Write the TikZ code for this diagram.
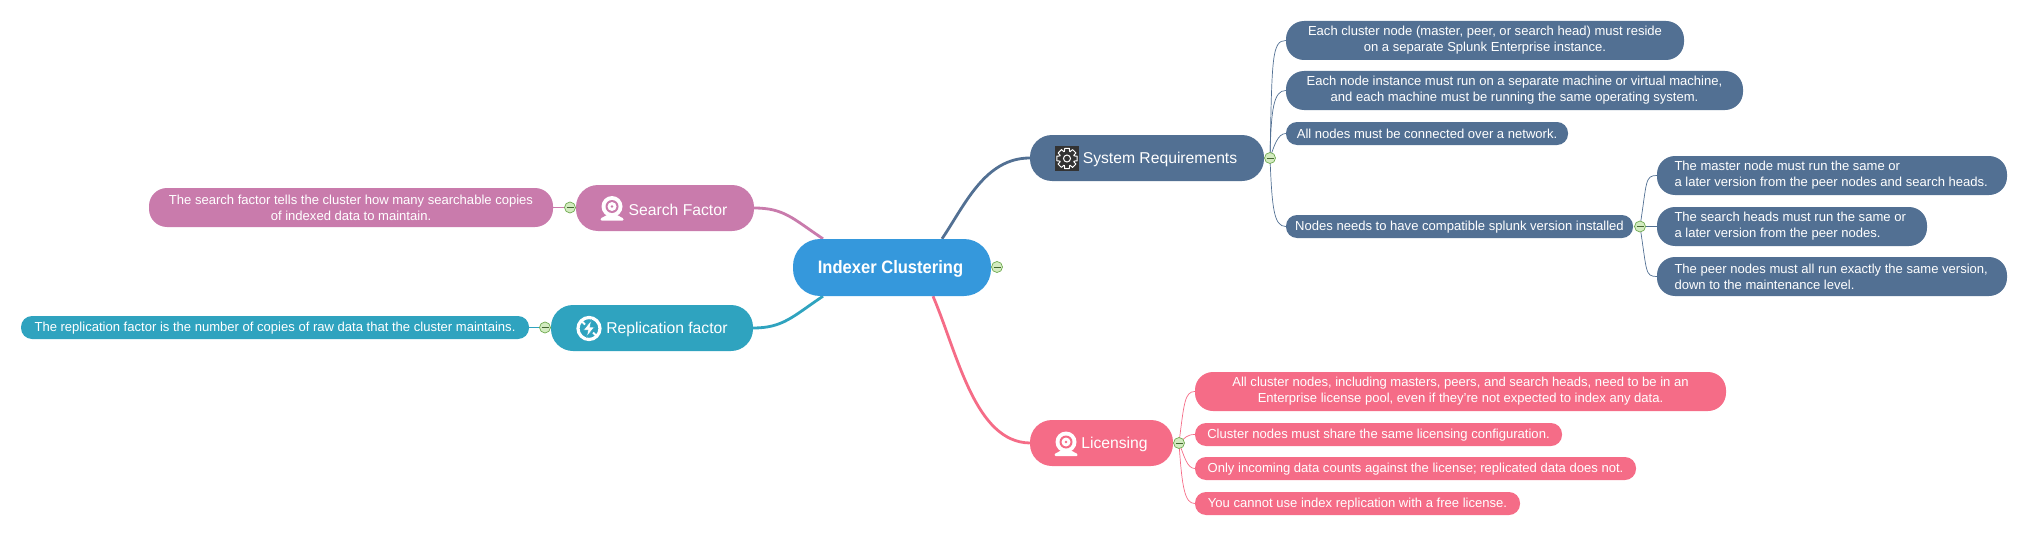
\documentclass[tikz,border=0pt]{standalone}
\usepackage{fontspec}
\setmainfont{Liberation Sans}
\newfontfamily\topicfont[FakeStretch=.92]{Liberation Sans}
\usetikzlibrary{backgrounds}
\definecolor{rootblue}{HTML}{3598DC}
\definecolor{sysblue}{HTML}{527093}
\definecolor{searchpink}{HTML}{C97BAC}
\definecolor{repteal}{HTML}{2FA3BF}
\definecolor{licrose}{HTML}{F56C87}
\definecolor{foldfill}{HTML}{D3EBC0}
\definecolor{foldline}{HTML}{6FAA50}
\definecolor{geardark}{HTML}{333333}
\tikzset{
	lowertext/.style = {execute at begin node = {\rule{0pt}{#1}}},
	topicbox/.style = {lowertext = .92em, fill = rootblue, text = white, rounded corners = 27, inner sep = 0, minimum width = 198, minimum height = 57, font = \fontsize{18}{21}\topicfont\bfseries},
	mainbox/.style = {lowertext = .92em, text = white, rounded corners = 22, inner sep = 0, minimum height = 46, font = \fontsize{15.7}{19}\selectfont},
	leafbox/.style = {lowertext = 1.08em, text = white, rounded corners = 18, inner sep = 0, minimum height = 39, align = center, font = \fontsize{13.05}{16}\selectfont},
	lineboxa/.style = {lowertext = .85em, text = white, rounded corners = 11, inner sep = 0, minimum height = 23, font = \fontsize{13.05}{16}\selectfont},
	foldmark/.style = {circle, draw = foldline, fill = foldfill, line width = .7, inner sep = 0, minimum size = 11,
		path picture = {\draw[foldline!60!black, line width = .8] ([xshift = -3.5]path picture bounding box.center) -- ([xshift = 3.5]path picture bounding box.center);}},
	bough/.style = {line width = 2.8},
	twig/.style = {line width = .7},
	pics/webcam/.style = {code = {
		\fill[white] (0,0) circle (10.5);
		\fill[#1] (0,0) circle (6.5);
		\fill[white] (0,0) circle (4.5);
		\fill[#1] (0,0) circle (1.3);
		\fill[white, rounded corners = 1] (-4,8) -- (4,8) -- (11.5,12) -- (11.5,14) -- (-11.5,14) -- (-11.5,12) -- cycle;
	}},
	pics/cogwheel/.style = {code = {
		\fill[geardark] (-12,-12.5) rectangle (12,12.5);
		\foreach \a in {0,45,...,315}
			\draw[white, line width = 1, line join = round] (\a-13:10.5) -- (\a+13:10.5) -- (\a+20:7.5) -- (\a+25:7.5) -- (\a+32:10.5);
		\draw[white, line width = 1] (0,0) circle (3.5);
	}},
	pics/boltring/.style = {code = {
		\draw[white, line width = 3.2] (0,0) circle (11);
		\draw[white, line width = 2] (-8,-8) -- (-4,-4) (4,4) -- (8,8);
		\filldraw[white, draw = #1, line width = .5] (2.5,-8.5) -- (-5.5,1.5) -- (-1,1.5) -- (-2.5,8.5) -- (5.5,-1.5) -- (1,-1.5) -- cycle;
	}},
}
\begin{document}
\begin{tikzpicture}[x = 1pt, y = -1pt]
	\useasboundingbox (0,0) rectangle (2027,535);
	\node[topicbox] (root) at (892,267.5) {\hspace*{-3pt}Indexer Clustering};
	\node[foldmark] (rootfold) at (997,267) {};

	% right, upper branch
	\node[mainbox, fill = sysblue, minimum width = 234] (sysreq) at (1147,158) {\hspace*{26pt}System Requirements};
	\node[foldmark] (sysfold) at (1270,158) {};
	\node[leafbox, fill = sysblue, minimum width = 398] (nodeinst) at (1485,40.5) {Each cluster node (master, peer, or search head) must reside\\on a separate Splunk Enterprise instance.};
	\node[leafbox, fill = sysblue, minimum width = 457] (machine) at (1514.5,90.5) {Each node instance must run on a separate machine or virtual machine,\\and each machine must be running the same operating system.};
	\node[lineboxa, fill = sysblue, minimum width = 282] (network) at (1427,133.5) {All nodes must be connected over a network.};
	\node[lineboxa, fill = sysblue, minimum width = 347] (version) at (1459.5,226.5) {Nodes needs to have compatible splunk version installed};
	\node[foldmark] (verfold) at (1640,226.5) {};
	\node[leafbox, fill = sysblue, minimum width = 350, align = left] (masterver) at (1832,175.5) {\makebox[315pt][l]{The master node must run the same or}\\a later version from the peer nodes and search heads.};
	\node[leafbox, fill = sysblue, minimum width = 270, align = left] (headver) at (1792,226.5) {\makebox[235pt][l]{The search heads must run the same or}\\a later version from the peer nodes.};
	\node[leafbox, fill = sysblue, minimum width = 350, align = left] (peerver) at (1832,276.5) {\makebox[315pt][l]{The peer nodes must all run exactly the same version,}\\down to the maintenance level.};

	% right, lower branch
	\node[mainbox, fill = licrose, minimum width = 143] (licensing) at (1101.5,443) {\hspace*{26pt}Licensing};
	\node[foldmark] (licfold) at (1179,443) {};
	\node[leafbox, fill = licrose, minimum width = 531] (licpool) at (1460.5,391.5) {All cluster nodes, including masters, peers, and search heads, need to be in an\\Enterprise license pool, even if they're not expected to index any data.};
	\node[lineboxa, fill = licrose, minimum width = 367] (licsame) at (1378.5,434.5) {Cluster nodes must share the same licensing configuration.};
	\node[lineboxa, fill = licrose, minimum width = 441] (licdata) at (1415.5,468.5) {Only incoming data counts against the license; replicated data does not.};
	\node[lineboxa, fill = licrose, minimum width = 325] (licfree) at (1357.5,503.5) {You cannot use index replication with a free license.};

	% left side
	\node[mainbox, fill = searchpink, minimum width = 178] (search) at (665,208) {\hspace*{26pt}Search Factor};
	\node[foldmark] (searchfold) at (570,207.5) {};
	\node[leafbox, fill = searchpink, minimum width = 404] (searchleaf) at (351,207.5) {The search factor tells the cluster how many searchable copies\\of indexed data to maintain.};
	\node[mainbox, fill = repteal, minimum width = 202] (replica) at (652,328) {\hspace*{30pt}Replication factor};
	\node[foldmark] (repfold) at (545,327.5) {};
	\node[lineboxa, fill = repteal, minimum width = 508] (repleaf) at (275,327.5) {The replication factor is the number of copies of raw data that the cluster maintains.};

	% icons
	\pic at (1067,158.5) {cogwheel};
	\pic at (1066,442) {webcam = licrose};
	\pic at (612,206.5) {webcam = searchpink};
	\pic at (589,328.5) {boltring = repteal};

	\begin{scope}[on background layer]
		\draw[bough, sysblue] ([xshift = 50]root.north) .. controls +(23,-34) and +(-45,0) .. (sysreq.west);
		\draw[bough, licrose] ([xshift = 41]root.south) .. controls (958,355) and (975,442) .. (licensing.west);
		\draw[bough, searchpink] ([xshift = -69]root.north) .. controls +(-30,-20) and +(30,0) .. (search.east);
		\draw[bough, repteal] ([xshift = -69]root.south) .. controls +(-30,20) and +(30,0) .. (replica.east);

		\draw[twig, sysblue] (sysfold.center) .. controls +(2,-100) and +(-14,0) .. (nodeinst.west);
		\draw[twig, sysblue] (sysfold.center) .. controls +(1,-50) and +(-12,0) .. (machine.west);
		\draw[twig, sysblue] (sysfold.center) .. controls +(4,-12) and +(-8,0) .. (network.west);
		\draw[twig, sysblue] (sysfold.center) .. controls +(2,50) and +(-12,0) .. (version.west);
		\draw[twig, sysblue] (verfold.center) .. controls +(7,-45) and +(-12,0) .. (masterver.west);
		\draw[twig, sysblue] (verfold.center) -- (headver.west);
		\draw[twig, sysblue] (verfold.center) .. controls +(7,45) and +(-12,0) .. (peerver.west);

		\draw[twig, licrose] (licfold.center) .. controls +(5,-40) and +(-10,0) .. (licpool.west);
		\draw[twig, licrose] (licfold.center) .. controls +(6,-5) and +(-8,0) .. (licsame.west);
		\draw[twig, licrose] (licfold.center) .. controls +(5,12) and +(-8,0) .. (licdata.west);
		\draw[twig, licrose] (licfold.center) .. controls +(3,45) and +(-10,0) .. (licfree.west);

		\draw[twig, searchpink] (searchleaf.east) -- (searchfold.center) -- (search.west);
		\draw[twig, repteal] (repleaf.east) -- (repfold.center) -- (replica.west);
	\end{scope}
\end{tikzpicture}
\end{document}
